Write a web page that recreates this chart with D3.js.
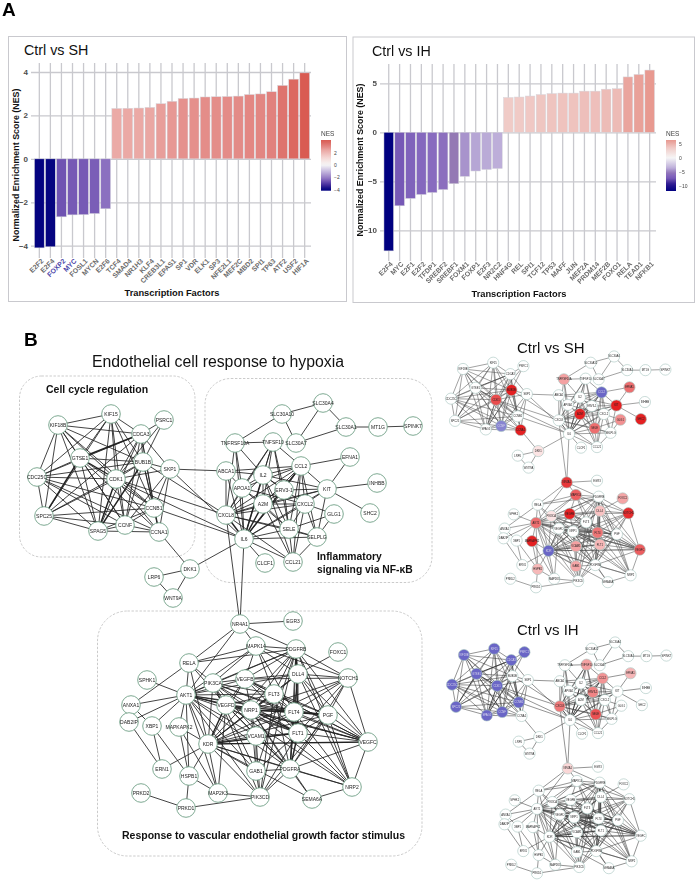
<!DOCTYPE html>
<html><head><meta charset="utf-8">
<script src="https://cdn.jsdelivr.net/npm/d3@7"></script>
<style>
html,body{margin:0;padding:0;background:#fff}
svg{display:block;filter:blur(0.3px)}
text{font-family:"Liberation Sans",Arial,sans-serif}
</style></head><body><svg id="fig" width="696" height="886"></svg>
<script>
// ---------- Panel A data ----------
const shFactors=["E2F2","E2F4","FOXP2","MYC","FOSL1","MYCN","E2F6","TCF4","SMAD4","NR1H3","KLF4","CREB3L1","EPAS1","SP1","VDR","ELK1","SP3","NFE2L1","MEF2C","MBD2","SPI1","TP63","ATF2","USF2","HIF1A"];
const shNES=[-4.1,-4.05,-2.67,-2.58,-2.57,-2.52,-2.3,2.32,2.33,2.34,2.37,2.54,2.65,2.78,2.8,2.85,2.86,2.87,2.89,2.96,2.99,3.09,3.38,3.67,3.96];
const ihFactors=["E2F4","MYC","E2F1","E2F2","TFDP1","SREBF2","SREBF1","FOXM1","FOXP1","E2F3","NR2C2","HNF4G","REL","SPI1","TCF12","TP53","MAFF","JUN","MEF2A","PRDM14","MEF2B","FOXO1","RELA","TEAD1","NFKB1"];
const ihNES=[-12.1,-7.5,-6.75,-6.35,-6.15,-5.85,-5.25,-4.5,-3.95,-3.8,-3.7,3.55,3.6,3.7,3.85,3.95,4.0,4.0,4.2,4.2,4.4,4.45,5.65,5.9,6.35];
const shTicks=[-4,-2,0,2,4], ihTicks=[-10,-5,0,5];
const shLegendTicks=[-4,-2,0,2], ihLegendTicks=[-10,-5,0,5];
const shBlueLabels=["FOXP2","MYC"];

// ---------- Panel B data: genes with layout coordinates ----------
const genes=["KIF15","KIF18B","PSRC1","CDCA3","GTSE1","BUB1B","SKP1","CDC25C","CDK1","CCNB1","SPC25","CCNF","SPAG5","CCNA1","DKK1","LRP6","WNT9A",
"SLC30A4","SLC30A10","SLC30A1","MT1G","SPINK7","TNFRSF10A","TNFSF10","SLC30A7","EFNA1","CCL2","ABCA1","IL2","INHBB","APOA1","ERV3-1","KIT","A2M","CXCL2","SHC2","GLG1","CXCL8","SELE","SELPLG","IL6","CLCF1","CCL21",
"NR4A1","EGR3","MAPK14","PDGFRB","FOXC1","RELA","DLL4","NOTCH1","SPHK1","PIK3CA","VEGFB","FLT3","AKT1","ANXA1","VEGFD","NRP1","FLT4","PGF","DAB2IP","XBP1","MAPKAPK2","VCAM1","FLT1","KDR","VEGFC","ERN1","HSPB1","GAB1","PDGFRA","NRP2","PRKD2","MAP2K3","PIK3CD","SEMA6A","PRKD1"];
const layoutX=[111,58,164,141,80,143,170,37,116,154,44,125,98,159,190,154,173,
323,282,346,378,413,235,273,296,350,301,226,263,377,242,284,327,263,305,370,334,226,289,317,244,265,293,
240,293,256,296,338,189,298,348,147,213,245,274,186,131,226,251,294,328,129,152,179,256,298,208,368,162,189,256,290,352,141,218,260,312,186];
const layoutY=[414,425,420,434,458,462,469,477,479,508,516,525,531,532,569,577,598,
403,414,427,427,426,443,442,443,457,466,471,475,483,488,490,489,504,504,513,514,515,529,537,539,563,562,
624,621,646,649,652,663,674,678,680,683,679,694,695,705,705,710,712,715,722,726,727,736,733,744,742,769,776,771,769,787,793,793,797,799,808];
const adjacency=[
"KIF15:KIF18B,CDCA3,GTSE1,BUB1B,CDK1,CCNB1,SPAG5,CDC25C,CCNF,SPC25",
"KIF18B:CDCA3,GTSE1,BUB1B,CDK1,CCNB1,SPAG5,CDC25C,CCNF,SPC25",
"PSRC1:CDCA3,BUB1B,CDK1",
"CDCA3:GTSE1,BUB1B,CDK1,CCNB1,CCNF,SPAG5,CDC25C,SPC25,SKP1,CCNA1",
"GTSE1:BUB1B,CDK1,CCNB1,CCNF,SPAG5,CDC25C,SPC25,CCNA1",
"BUB1B:CDK1,CCNB1,CCNF,SPAG5,CDC25C,SPC25,SKP1,CCNA1,CXCL8",
"SKP1:CDK1,CCNB1,CCNF,CCNA1,ABCA1,IL6",
"CDC25C:CDK1,CCNB1,CCNF,SPAG5,SPC25,CCNA1",
"CDK1:CCNB1,CCNF,SPAG5,SPC25,CCNA1,CXCL8,IL6",
"CCNB1:CCNF,SPAG5,CCNA1,SPC25,IL6",
"SPC25:SPAG5,CCNF","CCNF:SPAG5,CCNA1","SPAG5:CCNA1","CCNA1:DKK1",
"DKK1:LRP6,WNT9A,IL6","LRP6:WNT9A",
"SLC30A10:SLC30A4,SLC30A7,TNFRSF10A","SLC30A4:SLC30A1,SLC30A7","SLC30A1:SLC30A7,MT1G","MT1G:SPINK7",
"TNFRSF10A:TNFSF10,APOA1,IL2,CXCL8,IL6",
"TNFSF10:IL2,APOA1,CCL2,A2M,IL6,CXCL8,SELE,ERV3-1",
"EFNA1:CCL2,KIT",
"CCL2:ABCA1,IL2,APOA1,ERV3-1,KIT,A2M,CXCL2,CXCL8,IL6,SELE,CCL21,SELPLG",
"ABCA1:IL2,APOA1,CXCL8,IL6",
"IL2:APOA1,KIT,A2M,CXCL2,CXCL8,IL6,SELE,CCL21,ERV3-1",
"INHBB:KIT",
"APOA1:A2M,CXCL8,IL6,CXCL2,SELE",
"ERV3-1:A2M,CXCL8,IL6,KIT,SELE",
"KIT:CXCL2,CXCL8,IL6,SHC2,SELPLG,A2M",
"A2M:CXCL2,CXCL8,IL6,SELE,CCL21",
"CXCL2:CXCL8,IL6,SELE,CCL21,GLG1,SELPLG",
"GLG1:SELE,SELPLG",
"CXCL8:IL6,SELE,SELPLG,CCL21,NR4A1",
"SELE:IL6,SELPLG,CCL21","SELPLG:IL6,CCL21",
"IL6:CLCF1,CCL21,NR4A1",
"NR4A1:EGR3,MAPK14,PDGFRB,RELA,AKT1",
"MAPK14:PDGFRB,RELA,PIK3CA,VEGFB,AKT1,DLL4,FLT3,NOTCH1,FLT4",
"RELA:AKT1,PIK3CA,ANXA1,VEGFD,PDGFRB,KDR",
"SPHK1:AKT1","ANXA1:AKT1,XBP1","DAB2IP:ERN1,AKT1","XBP1:AKT1,ERN1,HSPB1",
"AKT1:PIK3CA,VEGFB,VEGFD,NRP1,FLT3,FLT4,FLT1,KDR,MAPKAPK2,HSPB1,PDGFRA,VCAM1,GAB1,PIK3CD,PDGFRB,MAP2K3,PGF,VEGFC,DLL4",
"MAPKAPK2:KDR,HSPB1,MAP2K3",
"PIK3CA:VEGFB,VEGFD,NRP1,FLT3,FLT4,FLT1,KDR,PDGFRA,PDGFRB,GAB1,PIK3CD,VEGFC",
"VEGFB:VEGFD,NRP1,FLT3,FLT4,FLT1,KDR,PDGFRB,DLL4,VEGFC,NOTCH1,PGF",
"VEGFD:NRP1,FLT3,FLT4,FLT1,KDR,VEGFC,PGF,NRP2,PDGFRA,VCAM1,MAP2K3",
"NRP1:FLT3,FLT4,FLT1,KDR,VEGFC,PGF,NRP2,PDGFRA,PDGFRB,DLL4,NOTCH1,VCAM1,GAB1,SEMA6A",
"FLT3:FLT4,FLT1,KDR,PDGFRB,VEGFC,PGF,DLL4,PDGFRA,PIK3CD",
"FLT4:FLT1,KDR,DLL4,NOTCH1,PGF,VEGFC,NRP2,PDGFRB,PDGFRA,VCAM1",
"FLT1:KDR,DLL4,NOTCH1,PGF,VEGFC,NRP2,PDGFRB,PDGFRA,VCAM1,GAB1,PIK3CD",
"KDR:VCAM1,DLL4,NOTCH1,PGF,VEGFC,NRP2,PDGFRB,PDGFRA,GAB1,PIK3CD,MAP2K3,HSPB1,ERN1,SEMA6A",
"PDGFRB:DLL4,NOTCH1,PGF,VEGFC,NRP2,PDGFRA,PIK3CD,GAB1",
"FOXC1:DLL4",
"DLL4:NOTCH1,PGF,VEGFC,NRP2,PDGFRA",
"NOTCH1:PGF,VEGFC,PDGFRA","PGF:VEGFC,NRP2,PDGFRA,PIK3CD","VEGFC:NRP2,PDGFRA",
"VCAM1:PIK3CD,GAB1,PDGFRA","GAB1:PDGFRA,PIK3CD","PDGFRA:PIK3CD,SEMA6A,NRP2","SEMA6A:NRP2",
"HSPB1:PRKD1,MAP2K3","PRKD1:PRKD2,PIK3CD","MAP2K3:PIK3CD"];
const strongEdges=["A2M-IL6","CXCL8-IL6","CCL2-IL6","IL2-IL6","BUB1B-SPAG5","CDK1-SPAG5","GTSE1-SPC25","CDK1-GTSE1","CDCA3-GTSE1","KDR-FLT1","FLT1-FLT4","FLT4-NRP1","NRP1-FLT1","VEGFD-KDR","FLT1-PDGFRB","PDGFRA-FLT1","FLT4-PGF","KDR-VEGFC"];
// change on each network: -1 blue ... 0 unchanged ... +1 red
const shChanged=["BUB1B","CDK1","CCNF","CCNA1","TNFRSF10A","CCL2","EFNA1","KIT","SHC2","GLG1","A2M","SELE","DKK1","NR4A1","MAPK14","FOXC1","NOTCH1","VEGFB","PIK3CA","DLL4","AKT1","FLT4","FLT1","VCAM1","MAPKAPK2","KDR","VEGFC","HSPB1","GAB1"];
const shChange=[1,.8,-.8,1,.42,-1,.65,1,1,.5,1,.65,.12,.9,.72,.4,.95,1,.12,.27,.65,.62,.32,.42,1,-1,.72,.32,.4];
const ihChanged=["KIF15","KIF18B","PSRC1","CDCA3","GTSE1","CDC25C","CDK1","SPC25","SPAG5","CCNF","CCNB1","TNFSF10","CCL2","EFNA1","ERV3-1","CXCL8","SELE","NR4A1"];
const ihChange=[-1,-1,-1,-1,-1,-1,-1,-1,-1,-1,-1,.42,.48,.33,.55,.6,.78,.18];

const svg=d3.select("#fig");
// ---------- bar-chart colour ----------
function fillScale(stops){return d3.scaleLinear().domain(stops.map(s=>s[0])).range(stops.map(s=>s[1])).clamp(true)}
const shColor=fillScale([[-4.2,"#000080"],[-3.95,"#0a0880"],[-3.2,"#4a30a0"],[-2.6,"#7458b4"],[-2.3,"#8b70c0"],[-1,"#c8bce0"],[0,"#f6f6f6"],[1,"#f5dcda"],[2.32,"#ebaaa6"],[3,"#e28581"],[3.96,"#d95b52"]]);
const ihColor=fillScale([[-12.1,"#000080"],[-9.5,"#2c1a90"],[-7.5,"#7658b6"],[-6,"#8a6dc0"],[-5.25,"#9479b4"],[-4.5,"#a893cc"],[-3.7,"#bdaed9"],[0,"#f6f6f6"],[3.55,"#f0cbc7"],[4.5,"#edbab5"],[6.4,"#e8988f"]]);

function barPanel(o){
  const g=svg.append("g");
  g.append("rect").attr("x",o.box[0]).attr("y",o.box[1]).attr("width",o.box[2]-o.box[0]).attr("height",o.box[3]-o.box[1]).attr("fill","#fff").attr("stroke","#c9c9ce").attr("stroke-width",1);
  const x=d3.scaleBand().domain(o.factors).range(o.xRange).paddingInner(.12).paddingOuter(.06);
  const y=d3.scaleLinear().domain(o.yDomain).range(o.yRange);
  const yAxis=g.append("g").attr("transform",`translate(${o.gridX[0]},0)`).call(d3.axisLeft(y).tickValues(o.ticks).tickSize(-(o.gridX[1]-o.gridX[0])).tickPadding(3).tickFormat(d3.format("d")));
  const xAxis=g.append("g").attr("transform",`translate(0,${o.gridY[1]})`).call(d3.axisBottom(x).tickSize(-(o.gridY[1]-o.gridY[0])).tickPadding(5));
  [yAxis,xAxis].forEach(a=>{a.select(".domain").remove();a.selectAll(".tick line").attr("stroke","#c9c9ce").attr("stroke-width",1.3);});
  yAxis.selectAll("text").attr("font-size",8).attr("font-weight","bold").attr("fill","#4d4d4d");
  xAxis.selectAll("text").attr("font-size",6.9).attr("font-weight","bold").attr("fill",d=>o.blue&&o.blue.includes(d)?"#4a44a8":"#6a6a6a")
    .attr("text-anchor","end").attr("dx","0.1em").attr("dy","0.1em").attr("y",5).attr("transform","rotate(-45)");
  g.append("g").selectAll("rect").data(o.values).join("rect")
    .attr("x",(d,i)=>x(o.factors[i])).attr("width",x.bandwidth())
    .attr("y",d=>y(Math.max(0,d))).attr("height",d=>Math.abs(y(d)-y(0)))
    .attr("fill",d=>o.color(d)).attr("stroke","#d6d6dc").attr("stroke-width",.5);
  g.append("text").attr("x",o.title[0]).attr("y",o.title[1]).attr("font-size",14.3).attr("fill","#111").text(o.titleText);
  g.append("text").attr("transform",`translate(${o.yTitle[0]},${o.yTitle[1]}) rotate(-90)`).attr("text-anchor","middle").attr("font-size",8.9).attr("font-weight","bold").attr("fill","#111").text("Normalized Enrichment Score (NES)");
  g.append("text").attr("x",o.xTitle[0]).attr("y",o.xTitle[1]).attr("text-anchor","middle").attr("font-size",9.3).attr("font-weight","bold").attr("fill","#111").text("Transcription Factors");
  // legend
  const ly=d3.scaleLinear().domain(o.legendDomain).range([o.legend[3],o.legend[1]]);
  const id="grad"+o.titleText.replace(/\W/g,"");
  const grad=svg.append("defs").append("linearGradient").attr("id",id).attr("x1",0).attr("x2",0).attr("y1",1).attr("y2",0);
  const steps=d3.range(0,1.0001,.05);
  grad.selectAll("stop").data(steps).join("stop").attr("offset",d=>d).attr("stop-color",d=>o.color(o.legendDomain[0]+d*(o.legendDomain[1]-o.legendDomain[0])));
  g.append("rect").attr("x",o.legend[0]).attr("y",o.legend[1]).attr("width",o.legend[2]-o.legend[0]).attr("height",o.legend[3]-o.legend[1]).attr("fill",`url(#${id})`);
  const la=g.append("g").attr("transform",`translate(${o.legend[2]},0)`).call(d3.axisRight(ly).tickValues(o.legendTicks).tickSize(0).tickPadding(3).tickFormat(d3.format("d")));
  la.select(".domain").remove();
  la.selectAll("text").attr("font-size",5).attr("fill","#444");
  g.append("text").attr("x",o.legend[0]).attr("y",o.legend[1]-4).attr("font-size",6.5).attr("fill","#444").text("NES");
}
barPanel({box:[8.5,36.5,346.5,301.5],factors:shFactors,values:shNES,xRange:[33.8,310.2],yDomain:[-4,4],yRange:[245.7,72],ticks:shTicks,gridX:[31,311],gridY:[63,258],color:shColor,
  title:[24,55],titleText:"Ctrl vs SH",yTitle:[18.5,165],xTitle:[172,296],legend:[321,140,331,190.7],legendDomain:[-4.2,4.03],legendTicks:shLegendTicks,blue:shBlueLabels});
barPanel({box:[353,37,694.5,302.5],factors:ihFactors,values:ihNES,xRange:[383.3,655.1],yDomain:[-10,5],yRange:[230.3,83.3],ticks:ihTicks,gridX:[380,656],gridY:[64,261],color:ihColor,
  title:[372,56],titleText:"Ctrl vs IH",yTitle:[363,160],xTitle:[519,297],legend:[666,140,676,191],legendDomain:[-12,6.4],legendTicks:ihLegendTicks});

svg.append("text").attr("x",2).attr("y",16).attr("font-size",19).attr("font-weight","bold").text("A");
svg.append("text").attr("x",24).attr("y",346).attr("font-size",19).attr("font-weight","bold").text("B");

// ---------- networks ----------
const nodes=genes.map((id,i)=>({id,lx:layoutX[i],ly:layoutY[i]}));
const byId=new Map(nodes.map(n=>[n.id,n]));
const strong=new Set(strongEdges);
const links=adjacency.flatMap(r=>{const [a,b]=r.split(":");return b.split(",").map(t=>({source:byId.get(a),target:byId.get(t),strong:strong.has(a+"-"+t)||strong.has(t+"-"+a)}));});

function network(o){
  const x=d3.scaleLinear().domain([58,413]).range(o.x), y=d3.scaleLinear().domain([425,808]).range(o.y);
  const g=svg.append("g");
  g.append("g").selectAll("line").data(links).join("line")
    .attr("x1",d=>x(d.source.lx)).attr("y1",d=>y(d.source.ly)).attr("x2",d=>x(d.target.lx)).attr("y2",d=>y(d.target.ly))
    .attr("stroke",o.edge).attr("stroke-width",d=>d.strong?o.ew*1.7:o.ew);
  const change=new Map((o.changed||[]).map((c,i)=>[c,o.change[i]]));
  const col=d3.scaleLinear().domain([-1,0,1]).range(["#6a66c6","#ffffff","#e42022"]);
  const ng=g.append("g").selectAll("g").data(nodes).join("g").attr("transform",d=>`translate(${x(d.lx)},${y(d.ly)})`);
  ng.append("circle").attr("r",o.r).attr("fill",d=>col(change.get(d.id)||0)).attr("stroke",o.ring).attr("stroke-width",o.rw);
  ng.append("text").attr("text-anchor","middle").attr("dy","0.35em").attr("font-size",o.fs).attr("fill",d=>(change.get(d.id)||0)<-.5?"#dde":"#222").text(d=>d.id);
}
// cluster boxes
const boxes=[[19.5,376,195,557,22],[205,378.5,432,582.5,26],[97.5,611,422,856,30]];
svg.append("g").selectAll("rect").data(boxes).join("rect").attr("x",d=>d[0]).attr("y",d=>d[1]).attr("width",d=>d[2]-d[0]).attr("height",d=>d[3]-d[1]).attr("rx",d=>d[4])
  .attr("fill","none").attr("stroke","#b5b5b5").attr("stroke-width",.7).attr("stroke-dasharray","2.4 1.6");

network({x:[58,413],y:[425,808],r:9.3,edge:"#222",ew:.85,ring:"#6f9f86",rw:.9,fs:5});
network({x:[463,665.4],y:[369,587.3],r:5.6,edge:"#555",ew:.55,ring:"#a6c5bf",rw:.6,fs:2.7,changed:shChanged,change:shChange});
network({x:[464,666.4],y:[655,873.3],r:5.6,edge:"#3a3a3a",ew:.55,ring:"#a6c5bf",rw:.6,fs:2.7,changed:ihChanged,change:ihChange});

const labels=[[92,367,15.8,"normal","Endothelial cell response to hypoxia"],[46,393,10.5,"bold","Cell cycle regulation"],[317,560,10.3,"bold","Inflammatory"],[317,573,10.3,"bold","signaling via NF-κB"],[122,839,10.5,"bold","Response to vascular endothelial growth factor stimulus"],[517,353,15,"normal","Ctrl vs SH"],[517,635,15,"normal","Ctrl vs IH"]];
svg.append("g").selectAll("text").data(labels).join("text").attr("x",d=>d[0]).attr("y",d=>d[1]).attr("font-size",d=>d[2]).attr("font-weight",d=>d[3]).attr("fill","#111").text(d=>d[4]);
</script></body></html>
